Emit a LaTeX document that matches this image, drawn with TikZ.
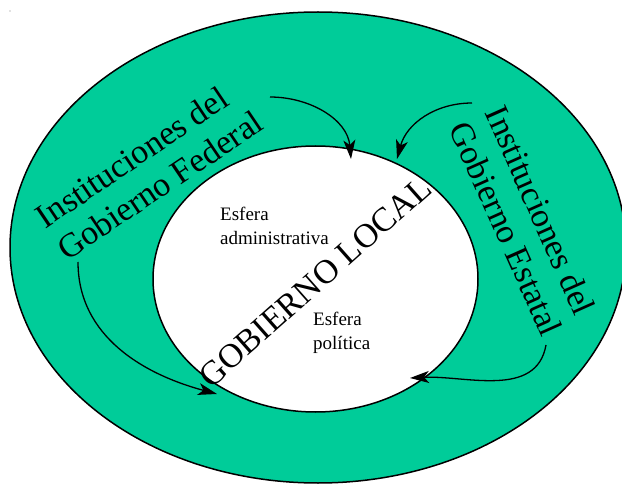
\documentclass[tikz,border=0pt]{standalone}
\usepackage{fontspec}
\setmainfont{Liberation Serif}
\usetikzlibrary{arrows.meta}
\definecolor{verde}{RGB}{0,204,153}

\begin{document}
\begin{tikzpicture}[x=1pt, y=1pt,
  flecha/.style={-{Stealth[length=19pt, width=12pt, inset=5pt]}, line width=1.3pt},
  grande/.style={font=\fontsize{34}{39}\selectfont, align=left, inner sep=0pt},
  chico/.style={font=\fontsize{19}{24}\selectfont, align=left, inner sep=0pt, anchor=west}]
\useasboundingbox (0,0) rectangle (622,483);
%ellipses
\draw[fill=verde, line width=1.5pt] (318,235.5) ellipse [x radius=308pt, y radius=235.5pt];
\draw[fill=white, line width=1.5pt] (315.5,204) ellipse [x radius=162.5pt, y radius=133pt];
\fill[gray] (10,472) circle (0.7pt);
%labels
\node[grande, rotate=34] (fed) at (149,314) {Instituciones del\\Gobierno Federal};
\node[grande, rotate=-66] (est) at (524,262) {Instituciones del\\Gobierno Estatal};
\node[grande, rotate=41.6] (local) at (315,201) {GOBIERNO LOCAL};
\node[chico] (adm) at (220,257) {Esfera\\administrativa};
\node[chico] (pol) at (313,150) {Esfera\\política};
%arrow ends
\coordinate (f1) at (270,386);
\coordinate (f1e) at (351,324);
\coordinate (e1) at (472,380);
\coordinate (e1e) at (397,324);
\coordinate (f2) at (78,221);
\coordinate (f2e) at (217,89);
\coordinate (e2) at (546,138);
\coordinate (e2e) at (410,105);
%arrows
\draw[flecha] (f1) to[out=0, in=95] (f1e);
\draw[flecha] (e1) to[out=180, in=75] (e1e);
\draw[flecha] (f2) to[out=-90, in=165] (f2e);
\draw[flecha] (e2) to[out=-100, in=3] (e2e);
\end{tikzpicture}
\end{document}
